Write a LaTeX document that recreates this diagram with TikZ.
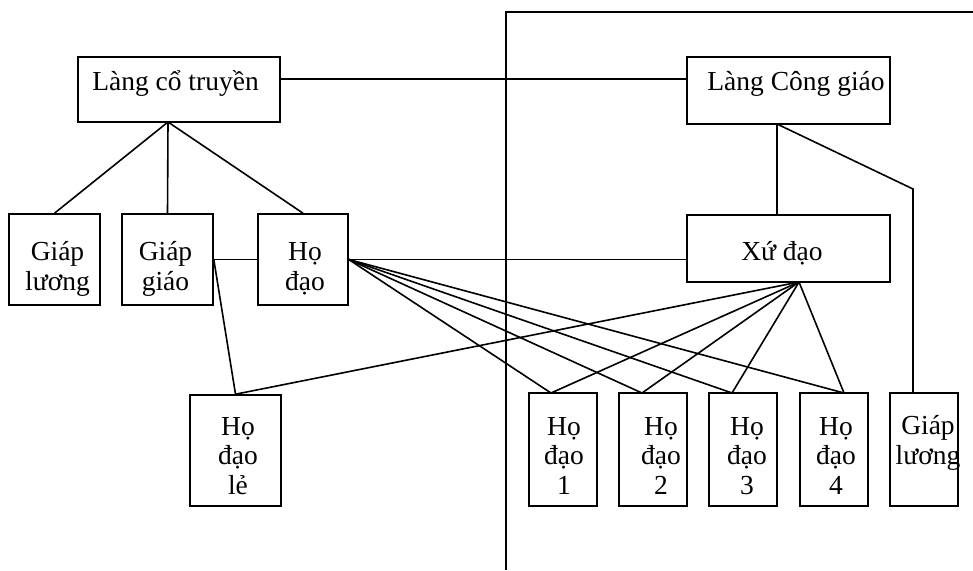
\documentclass[tikz,border=0pt]{standalone}
\usepackage{fontspec}
\setmainfont{Liberation Serif}

\tikzset{
  box/.style={draw, line width=1.6pt, inner sep=0pt},
  link/.style={line width=1.6pt},
  txt/.style={align=center, anchor=base, inner sep=0pt, font=\fontsize{27.5}{29.5}\selectfont}
}

\begin{document}
\begin{tikzpicture}[x=1pt,y=-1pt]
  \useasboundingbox (0,0) rectangle (973,570);

  % dividing frame
  \draw[link] (506,570) -- (506,12) -- (973,12);

  % left side: village and its groups
  \node[box, minimum width=202pt, minimum height=65pt] (lct) at (179,89.5) {};
  \node[box, minimum width=91pt, minimum height=91pt] (gl) at (54.5,259.5) {};
  \node[box, minimum width=91pt, minimum height=91pt] (gg) at (167.5,259.5) {};
  \node[box, minimum width=90pt, minimum height=91pt] (hd) at (303,259.5) {};
  \node[box, minimum width=91pt, minimum height=111pt] (hdl) at (235.5,450.5) {};

  % right side: parish and its groups
  \node[box, minimum width=203pt, minimum height=67pt] (lcg) at (788.5,90.5) {};
  \node[box, minimum width=203pt, minimum height=67pt] (xd) at (788.5,248.5) {};
  \node[box, minimum width=68pt, minimum height=113pt] (hd1) at (563,449.5) {};
  \node[box, minimum width=68pt, minimum height=113pt] (hd2) at (653,449.5) {};
  \node[box, minimum width=68pt, minimum height=113pt] (hd3) at (743,449.5) {};
  \node[box, minimum width=68pt, minimum height=113pt] (hd4) at (834,449.5) {};
  \node[box, minimum width=68pt, minimum height=113pt] (glr) at (924,449.5) {};

  % texts (anchored on the last line)
  \node[txt] (lctt) at (175.5,90) {Làng cổ truyền};
  \node[txt] (glt) at (57.5,290) {Giáp\\lương};
  \node[txt] (ggt) at (165.5,290) {Giáp\\giáo};
  \node[txt] (hdt) at (305,290) {Họ\\đạo};
  \node[txt] (hdlt) at (238,494) {Họ\\đạo\\lẻ};
  \node[txt] (lcgt) at (796,90) {Làng Công giáo};
  \node[txt] (xdt) at (782,260) {Xứ đạo};
  \node[txt] (hd1t) at (564,494) {Họ\\đạo\\1};
  \node[txt] (hd2t) at (661,494) {Họ\\đạo\\2};
  \node[txt] (hd3t) at (747,494) {Họ\\đạo\\3};
  \node[txt] (hd4t) at (836,494) {Họ\\đạo\\4};
  \node[txt] (glrt) at (928,464) {Giáp\\lương};

  % connection points
  \coordinate (lctb) at (168,122);
  \coordinate (lcgb) at (777,124);
  \coordinate (bend) at (913,189);
  \coordinate (xdb) at (799,282);
  \coordinate (top1) at (551,393);
  \coordinate (top2) at (642,393);
  \coordinate (top3) at (732,393);
  \coordinate (top4) at (844,393);

  % links
  \draw[link] (lctb) -- (gl.north);
  \draw[link] (lctb) -- (gg.north);
  \draw[link] (lctb) -- (hd.north);
  \draw[link] (lct.east |- 0,79) -- (lcg.west |- 0,79);
  \draw[link] (lcgb) -- (lcgb |- xd.north);
  \draw[link] (lcgb) -- (bend) -- (bend |- glr.north);
  \draw[link] (gg.east) -- (hd.west);
  \draw[link] (gg.east) -- (hdl.north);
  \draw[link] (hd.east) -- (hd.east -| xd.west);
  \draw[link] (xdb) -- (hdl.north);
  \foreach \t in {top1,top2,top3,top4}{
    \draw[link] (hd.east) -- (\t);
    \draw[link] (xdb) -- (\t);
  }
\end{tikzpicture}
\end{document}
